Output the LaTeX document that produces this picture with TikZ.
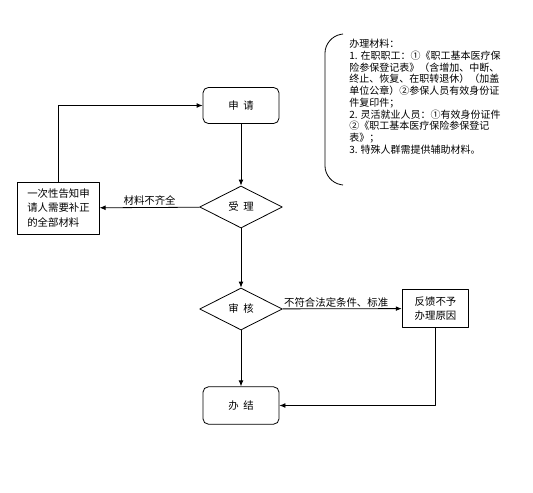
\documentclass[tikz,border=0pt]{standalone}
\usepackage{fontspec}
\setmainfont{Noto Sans CJK SC}
\usetikzlibrary{arrows.meta,shapes.geometric}

\begin{document}
\begin{tikzpicture}[
  x=0.75pt,y=-0.75pt,
  line join=round,
  >={Latex[length=4.5pt,width=3.6pt]},
  stepbox/.style={draw,line width=.6pt,inner sep=1pt,font=\fontsize{7.8}{11}\selectfont},
  roundbox/.style={stepbox,rounded corners=4pt,minimum width=57pt,minimum height=27pt},
  decide/.style={stepbox,diamond,aspect=2,inner sep=0pt,minimum width=62pt,minimum height=31.5pt},
  lbl/.style={font=\fontsize{7.8}{9}\selectfont,inner sep=1pt},
  flow/.style={->,line width=.6pt}
]
\useasboundingbox (0,0) rectangle (533,493);

% main column
\node[roundbox] (apply) at (241,105.5) {申\ \ 请};
\node[decide] (accept) at (241,207) {受\ \ 理};
\node[decide] (review) at (241,309) {审\ \ 核};
\node[roundbox,minimum height=28pt] (finish) at (241,405.5) {办\ \ 结};

% side boxes
\node[stepbox,minimum width=61pt,minimum height=39pt,align=left] (notify) at (58.5,208)
  {一次性告知申\\请人需要补正\\的全部材料};
\node[stepbox,minimum width=50pt,minimum height=28pt,align=center] (reject) at (435.5,308.5)
  {反馈不予\\办理原因};

% connectors
\draw[flow] (apply) -- (accept);
\draw[flow] (accept) -- (review);
\draw[flow] (review) -- (finish);
\draw[flow] (accept) -- node[lbl,above,pos=.5] (lack) {材料不齐全} (notify);
\draw[flow] (notify.north) |- (apply.west);
\draw[flow] (review) -- node[lbl,above,pos=.45] (unfit) {不符合法定条件、标准} (reject);
\draw[flow] (reject.south) |- (finish.east);

% materials note with bracket
\draw[line width=.6pt,rounded corners=12pt] (343,34) -- (325,37) -- (325,182) -- (343,185);
\node[anchor=north west,align=left,inner sep=0pt,font=\fontsize{7.5}{8.8}\selectfont] (docs) at (349,39)
  {办理材料：\\
   1. 在职职工：①《职工基本医疗保\\
   险参保登记表》（含增加、中断、\\
   终止、恢复、在职转退休）（加盖\\
   单位公章）②参保人员有效身份证\\
   件复印件；\\
   2. 灵活就业人员：①有效身份证件\\
   ②《职工基本医疗保险参保登记\\
   表》；\\
   3. 特殊人群需提供辅助材料。};
\end{tikzpicture}
\end{document}
